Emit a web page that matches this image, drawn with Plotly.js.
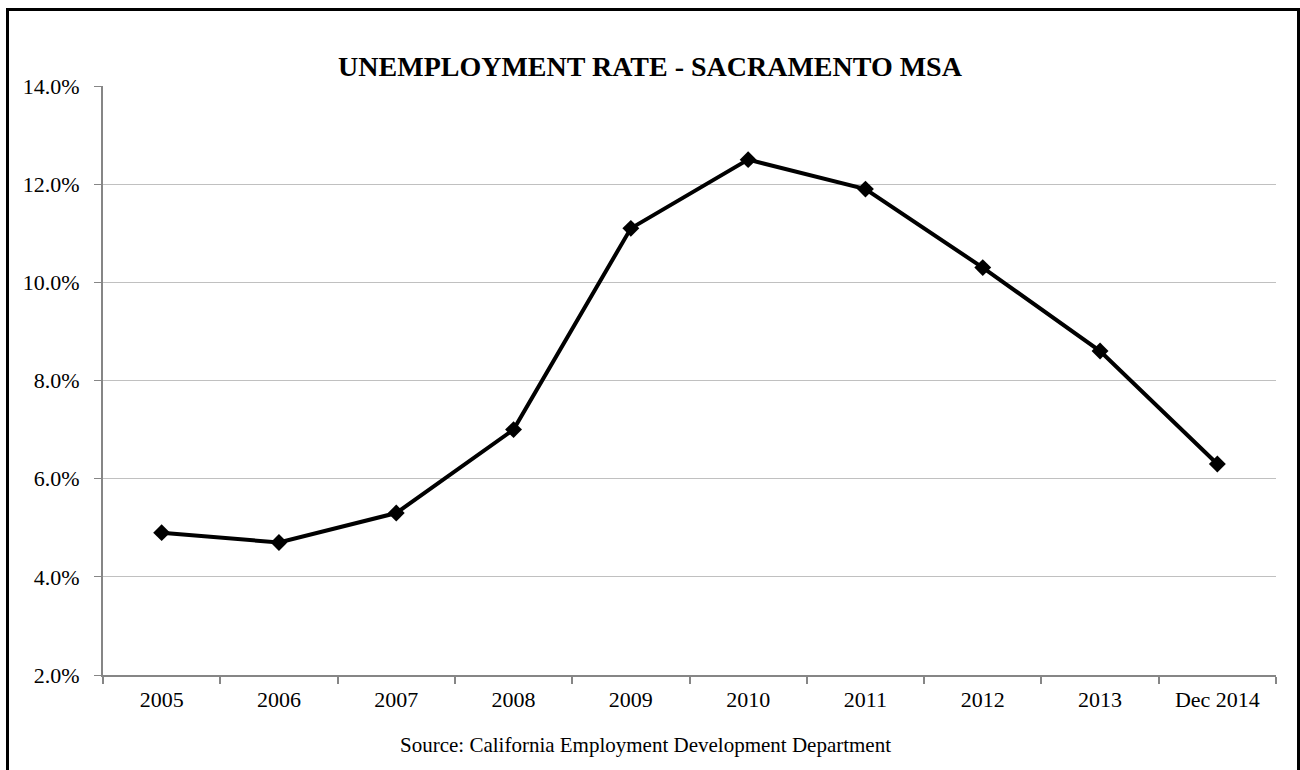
<!DOCTYPE html>
<html>
<head>
<meta charset="utf-8">
<script src="https://cdn.plot.ly/plotly-3.0.1.min.js"></script>
<style>
  html, body { margin: 0; padding: 0; width: 1300px; height: 770px; overflow: hidden; background: #fff; }
  #chart { width: 1300px; height: 770px; }
  #frame { position: absolute; left: 6px; top: 8px; width: 1288px; height: 900px;
           border: 3px solid #000; border-bottom: none; pointer-events: none; }
</style>
</head>
<body>
<div id="chart"></div>
<div id="frame"></div>
<script>
const categories = ["2005", "2006", "2007", "2008", "2009", "2010", "2011", "2012", "2013", "Dec 2014"];
const unemploymentRate = [4.9, 4.7, 5.3, 7.0, 11.1, 12.5, 11.9, 10.3, 8.6, 6.3];
const yTickValues = [2, 4, 6, 8, 10, 12, 14];
const chartTitle = "UNEMPLOYMENT RATE - SACRAMENTO MSA";
const sourceNote = "Source: California Employment Development Department";

const W = 1300, H = 770;
const m = { l: 103, r: 24, t: 86, b: 95 };
const plotW = W - m.l - m.r, plotH = H - m.t - m.b;
const font = "Liberation Serif, Times New Roman, serif";

const trace = {
  x: categories,
  y: unemploymentRate,
  type: "scatter",
  mode: "lines+markers",
  line: { color: "#000", width: 4 },
  marker: { symbol: "diamond", size: 13, color: "#000" },
  hoverinfo: "x+y"
};

const layout = {
  width: W, height: H,
  margin: m,
  paper_bgcolor: "#fff",
  plot_bgcolor: "#fff",
  showlegend: false,
  font: { family: font, color: "#000", size: 22 },
  title: {
    text: "<b>" + chartTitle + "</b>",
    font: { family: font, size: 28, color: "#000" },
    x: 0.5, xref: "container", xanchor: "center",
    y: 1 - 66 / H, yref: "container", yanchor: "middle"
  },
  xaxis: {
    type: "category",
    range: [-0.5, categories.length - 0.5],
    showgrid: false,
    showline: true, linecolor: "#868686", linewidth: 2,
    ticks: "outside", tickson: "boundaries", ticklen: 7, tickcolor: "#868686", tickwidth: 2,
    tickfont: { family: font, size: 22, color: "#000" },
    ticklabelstandoff: 4,
    zeroline: false, fixedrange: true
  },
  yaxis: {
    range: [2, 14],
    tickmode: "array", tickvals: yTickValues,
    ticktext: yTickValues.map(v => v.toFixed(1) + "%"),
    showgrid: true, gridcolor: "#c0c0c0", gridwidth: 1,
    showline: true, linecolor: "#868686", linewidth: 2,
    ticks: "outside", ticklen: 7, tickcolor: "#868686", tickwidth: 1,
    tickfont: { family: font, size: 22, color: "#000" },
    ticklabelstandoff: 10,
    zeroline: false, fixedrange: true
  },
  annotations: [{
    text: sourceNote,
    xref: "paper", yref: "paper",
    x: (645 - m.l) / plotW, y: -(745 - (H - m.b)) / plotH,
    xanchor: "center", yanchor: "middle",
    showarrow: false,
    font: { family: font, size: 21, color: "#000" }
  }]
};

Plotly.newPlot("chart", [trace], layout, { displayModeBar: false, staticPlot: true });
</script>
</body>
</html>
